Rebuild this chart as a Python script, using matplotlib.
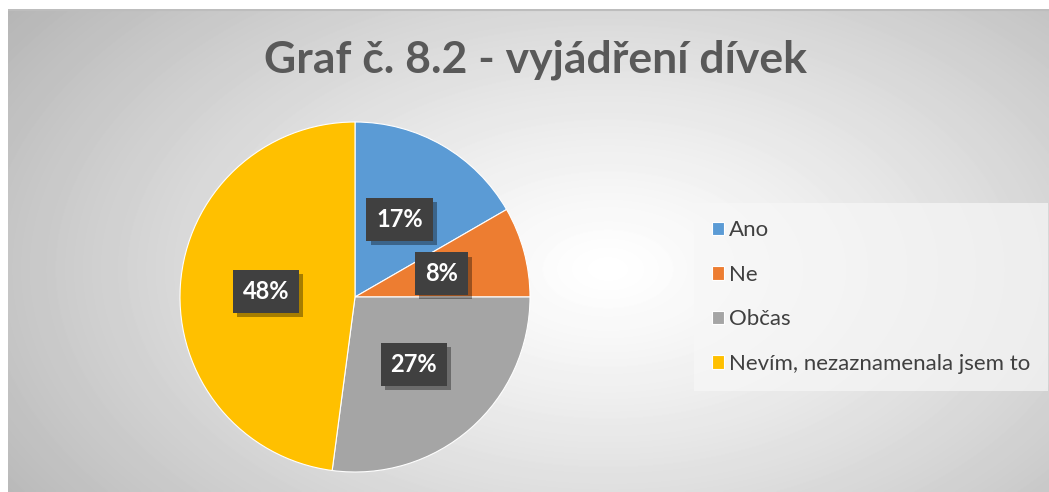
import matplotlib.pyplot as plt
import matplotlib.patheffects as pe
import numpy as np

kategorie = ["Ano", "Ne", "Občas", "Nevím, nezaznamenala jsem to"]
pocty = [8, 4, 13, 23]
barvy = ["#5B9BD5", "#ED7D31", "#A5A5A5", "#FFC000"]
nadpis = "Graf č. 8.2 - vyjádření dívek"

W, H = 1049, 492
fig = plt.figure(figsize=(W / 100, H / 100), dpi=100)
fig.patch.set_facecolor("white")

# pozadi s radialnim prechodem
bg = fig.add_axes([8 / W, 0, 1 - 8 / W, (H - 9) / H])
yy, xx = np.mgrid[0:H - 9, 0:W - 8]
d = np.sqrt(((xx - 600) / 700.0) ** 2 + ((yy - 260) / 420.0) ** 2)
val = 1 - 0.27 * np.clip(d, 0, 1.2) ** 1.2
bg.imshow(val, cmap="gray", vmin=0, vmax=1, aspect="auto", interpolation="bilinear")
bg.axhline(0.5, color="#bdbdbd", lw=1.5)
bg.set_axis_off()

# nadpis
fig.text(535 / W, 1 - 60 / H, nadpis, ha="center", va="center",
         fontsize=32, fontweight="bold", color="#595959", family="Lato")

# kolac
ax = fig.add_axes([180 / W, 20 / H, 350 / W, 350 / H])
wedges, texts, autotexts = ax.pie(
    pocty, colors=barvy, startangle=90, counterclock=False,
    autopct=lambda p: "{:.0f}%".format(p), pctdistance=0.51,
    wedgeprops=dict(linewidth=0.8, edgecolor="white"),
    textprops=dict(color="white", fontsize=17, fontweight="bold", family="Lato"))
for t in autotexts:
    t.set_bbox(dict(boxstyle="square,pad=0.42", fc="#404040", ec="none"))
    t.get_bbox_patch().set_path_effects([
        pe.SimplePatchShadow(offset=(3, -3), shadow_rgbFace="black", alpha=0.35),
        pe.Normal()])
ax.set_xlim(-1, 1)
ax.set_ylim(-1, 1)
ax.set_aspect("equal")

leg = fig.legend(wedges, kategorie, loc="center left",
                 bbox_to_anchor=(701 / W, 1 - 297 / H),
                 frameon=True, handlelength=0.55, handleheight=0.55,
                 handletextpad=0.2, labelspacing=1.1, borderpad=0.5,
                 borderaxespad=0, prop=dict(family="Lato", size=16))
leg.get_frame().set_facecolor("#f7f7f7")
leg.get_frame().set_alpha(0.7)
leg.get_frame().set_edgecolor("none")
leg.get_frame().set_boxstyle("square")
for t in leg.get_texts():
    t.set_color("#404040")

plt.savefig("out.png", dpi=100)
